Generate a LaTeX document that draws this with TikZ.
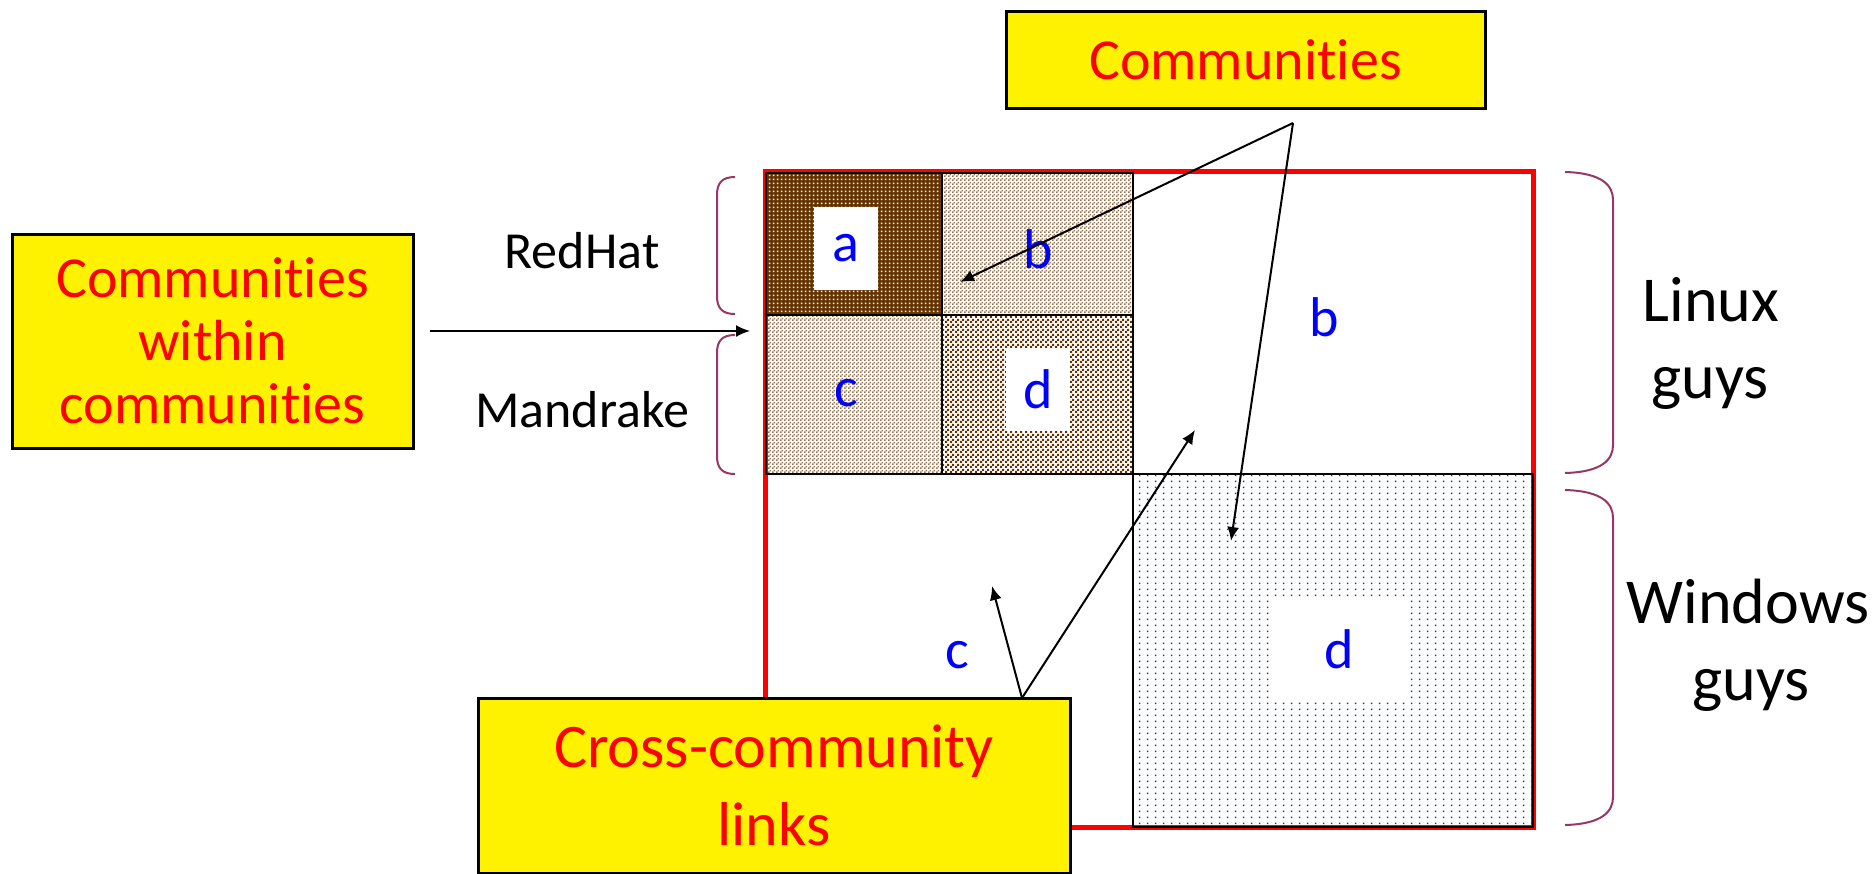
\documentclass[tikz,border=0pt]{standalone}
\usepackage{fontspec}
\setmainfont{Carlito}[Ligatures={NoCommon,NoContextual,NoRequired}]
\usetikzlibrary{arrows.meta,patterns.meta}

\definecolor{bracecol}{RGB}{150,55,100}
\definecolor{darkbrown}{RGB}{102,51,0}
\definecolor{tanbrown}{RGB}{150,115,80}
\definecolor{dotblue}{RGB}{30,60,110}
\definecolor{letterblue}{RGB}{0,0,255}

\tikzdeclarepattern{name=finedots,type=uncolored,
  bounding box={(0,0) and (2pt,2pt)},tile size={(2pt,2pt)},
  code={\fill (0.5pt,0.5pt) rectangle (1.5pt,1.5pt);}}
\tikzdeclarepattern{name=finechecks,type=uncolored,
  bounding box={(0,0) and (2pt,2pt)},tile size={(2pt,2pt)},
  code={\fill (0,0) rectangle (1pt,1pt); \fill (1pt,1pt) rectangle (2pt,2pt);}}
\tikzdeclarepattern{name=coarsechecks,type=uncolored,
  bounding box={(0,0) and (2.5pt,2.5pt)},tile size={(2.5pt,2.5pt)},
  code={\fill (0,0) rectangle (1.25pt,1.25pt); \fill (1.25pt,1.25pt) rectangle (2.5pt,2.5pt);}}
\tikzdeclarepattern{name=sparsedots,type=uncolored,
  bounding box={(0,0) and (4pt,3pt)},tile size={(4pt,3pt)},
  code={\fill (1.55pt,1.05pt) rectangle (2.45pt,1.95pt);}}

\begin{document}
\begin{tikzpicture}[x=0.5pt,y=-0.5pt]
  \tikzstyle{callout}=[draw=black,line width=1.5pt,fill=yellow,text=red,align=center,inner sep=0pt]
  \tikzstyle{tag}=[text=letterblue,font=\fontsize{28}{30}\selectfont]
  \tikzstyle{tagbox}=[tag,fill=white,minimum width=32pt,minimum height=41.5pt,inner sep=0pt]
  \tikzstyle{group}=[font=\fontsize{26}{30}\selectfont]
  \tikzstyle{biggroup}=[anchor=base,font=\fontsize{32}{38.5}\selectfont]
  \tikzstyle{brace}=[draw=bracecol,line width=1pt]
  \tikzstyle{line}=[draw,line width=1pt,-{Latex[length=7pt,width=6pt]}]
  \tikzstyle{cell}=[draw=black,line width=1pt]
  \useasboundingbox (0,0) rectangle (1874,873);

  % adjacency matrix
  \draw[red,line width=2.5pt] (765,171) rectangle (1533,827);
  \draw[cell,preaction={fill=darkbrown},pattern=finedots,pattern color=white] (766,173) rectangle (942,315);
  \draw[cell,pattern=finechecks,pattern color=tanbrown] (942,173) rectangle (1133,315);
  \draw[cell,pattern=finechecks,pattern color=tanbrown] (766,315) rectangle (942,474);
  \draw[cell,pattern=coarsechecks,pattern color=darkbrown] (942,315) rectangle (1133,474);
  \draw[cell,pattern=sparsedots,pattern color=dotblue] (1133,474) rectangle (1533,827);

  % block labels
  \node[tagbox] (a) at (846,248) {a};
  \node[tag] (b) at (1038,249) {b};
  \node[tag] (c) at (846,393) {c};
  \node[tagbox] (d) at (1038,389) {d};
  \node[tag] (bigb) at (1324,317) {b};
  \node[tag] (bigc) at (957,655) {c};
  \node[tagbox,minimum width=67pt,minimum height=51pt] (bigd) at (1339,649) {d};

  % group names and braces
  \node[group] (redhat) at (582,251) {RedHat};
  \node[group] (mandrake) at (582,410) {Mandrake};
  \node[biggroup] (linux) at (1711,321) {Linux};
  \node[biggroup] (linuxguys) at (1710,398) {guys};
  \node[biggroup] (windows) at (1748,623) {Windows};
  \node[biggroup] (windowsguys) at (1751,700) {guys};
  \draw[brace] (735,177) .. controls (722,177) and (717,183) .. (717,195) -- (717,296)
    .. controls (717,308) and (722,314) .. (735,314);
  \draw[brace] (735,335) .. controls (722,335) and (717,341) .. (717,353) -- (717,456)
    .. controls (717,468) and (722,474) .. (735,474);
  \draw[brace] (1565,172) .. controls (1603,173) and (1613,186) .. (1613,200) -- (1613,445)
    .. controls (1613,459) and (1603,472) .. (1565,473);
  \draw[brace] (1565,490) .. controls (1603,491) and (1613,504) .. (1613,518) -- (1613,797)
    .. controls (1613,811) and (1603,824) .. (1565,825);

  % arrows
  \coordinate (nestedstart) at (430,331);
  \coordinate (nestedtip) at (750,331);
  \coordinate (commsplit) at (1293,123);
  \coordinate (commtipb) at (960,282);
  \coordinate (commtipd) at (1231,541);
  \coordinate (crosssplit) at (1022,698);
  \coordinate (crosstipc) at (992,586);
  \coordinate (crosstipb) at (1195,430);
  \draw[line] (nestedstart) -- (nestedtip);
  \draw[line] (commsplit) -- (commtipb);
  \draw[line] (commsplit) -- (commtipd);
  \draw[line] (crosssplit) -- (crosstipc);
  \draw[line] (crosssplit) -- (crosstipb);

  % callouts (kern stops the t-i ligature)
  \node[callout,minimum width=239.5pt,minimum height=48.5pt,font=\fontsize{29}{31}\selectfont] (comm) at (1245.5,59.5) {Communit\kern0pt ies};
  \node[callout,minimum width=200.5pt,minimum height=107pt,font=\fontsize{29}{31.5}\selectfont] (nested) at (212.5,341) {Communit\kern0pt ies\\within\\communit\kern0pt ies};
  \node[callout,minimum width=296pt,minimum height=87.5pt,font=\fontsize{31}{39}\selectfont] (cross) at (774,785.5) {Cross-community\\links};
\end{tikzpicture}
\end{document}
